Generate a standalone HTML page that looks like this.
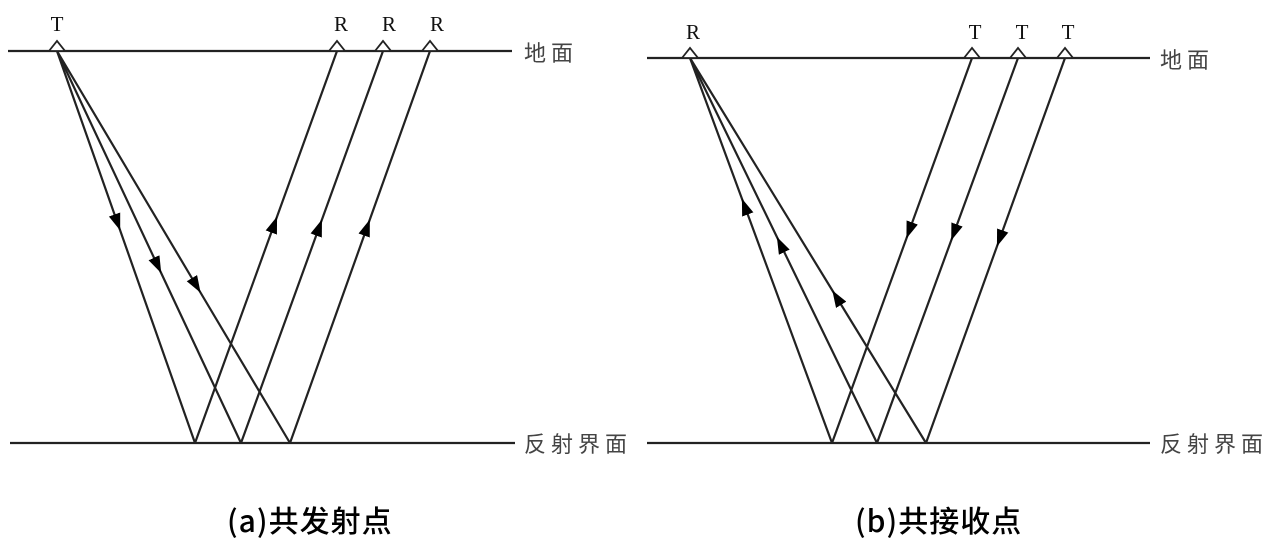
<!DOCTYPE html>
<html><head><meta charset="utf-8"><style>
html,body{margin:0;padding:0;background:#fff;}
svg{display:block;}
.s{font-family:"Liberation Serif",serif;font-size:21px;fill:#111;}
.c{font-family:"Liberation Sans","Noto Sans CJK SC",sans-serif;font-size:22px;fill:#444;letter-spacing:5px;}
.cap{font-family:"Noto Sans CJK SC","Liberation Sans",sans-serif;font-size:30px;fill:#000;letter-spacing:1px;font-weight:500;}
</style></head><body>
<svg width="1283" height="546" viewBox="0 0 1283 546" xmlns="http://www.w3.org/2000/svg">
<defs>
<marker id="a" markerUnits="userSpaceOnUse" markerWidth="20" markerHeight="14" refX="8" refY="6" orient="auto">
<path d="M0,0 L17,6 L0,12 z" fill="#000"/></marker>
</defs>
<g stroke="#222" stroke-width="2.2" fill="none">
<line x1="8" y1="51" x2="512" y2="51"/>
<line x1="10" y1="443" x2="515" y2="443"/>
<path d="M57,51 L117.2,222 L195,443" marker-mid="url(#a)"/>
<path d="M57,51 L157.4,265 L241,443" marker-mid="url(#a)"/>
<path d="M57,51 L196,285 L290,443" marker-mid="url(#a)"/>
<path d="M195,443 L274,225 L337,51" marker-mid="url(#a)"/>
<path d="M241,443 L318.9,228 L383,51" marker-mid="url(#a)"/>
<path d="M290,443 L366.8,228 L430,51" marker-mid="url(#a)"/>
<line x1="647" y1="58" x2="1150" y2="58"/>
<line x1="647" y1="443" x2="1150" y2="443"/>
<path d="M832,443 L745,207 L690,58" marker-mid="url(#a)"/>
<path d="M877,443 L780.8,245 L690,58" marker-mid="url(#a)"/>
<path d="M926,443 L837,298 L690,58" marker-mid="url(#a)"/>
<path d="M972,58 L909.5,230 L832,443" marker-mid="url(#a)"/>
<path d="M1018,58 L954.3,232 L877,443" marker-mid="url(#a)"/>
<path d="M1065,58 L1000,238 L926,443" marker-mid="url(#a)"/>
</g>
<g stroke="#222" stroke-width="1.8" fill="#fff">
<polygon points="49,51 57,41 65,51"/>
<polygon points="329,51 337,41 345,51"/>
<polygon points="375,51 383,41 391,51"/>
<polygon points="422,51 430,41 438,51"/>
<polygon points="682,58 690,48 698,58"/>
<polygon points="964,58 972,48 980,58"/>
<polygon points="1010,58 1018,48 1026,58"/>
<polygon points="1057,58 1065,48 1073,58"/>
</g>
<g class="s" text-anchor="middle">
<text x="57" y="31">T</text>
<text x="341" y="31">R</text>
<text x="389" y="31">R</text>
<text x="437" y="31">R</text>
<text x="693" y="39">R</text>
<text x="975" y="39">T</text>
<text x="1022" y="39">T</text>
<text x="1068" y="39">T</text>
</g>
<text class="c" x="524" y="61">地面</text>
<text class="c" x="524" y="452">反射界面</text>
<text class="c" x="1160" y="68">地面</text>
<text class="c" x="1160" y="452">反射界面</text>
<text class="cap" x="227" y="532">(a)共发射点</text>
<text class="cap" x="855" y="532">(b)共接收点</text>
</svg>
</body></html>
